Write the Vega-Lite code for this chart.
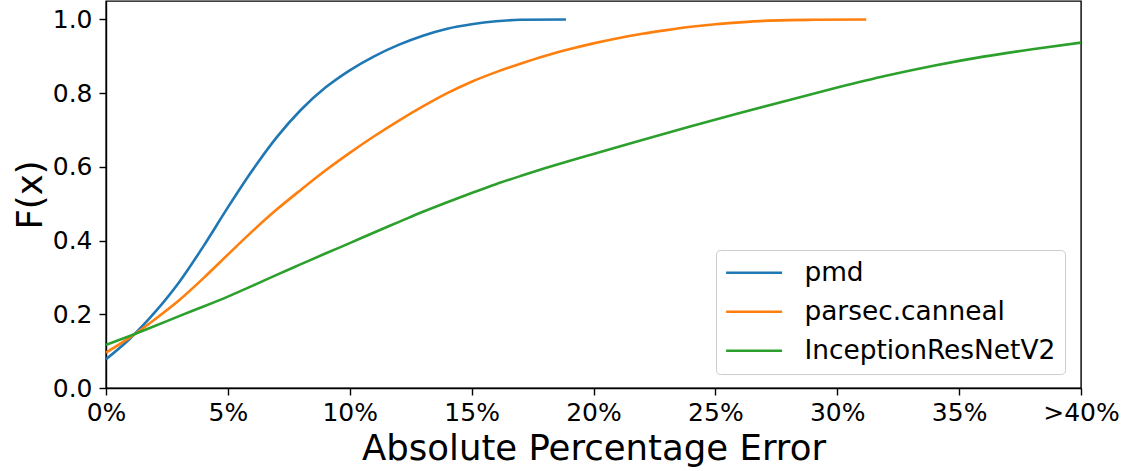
{
  "$schema": "https://vega.github.io/schema/vega-lite/v6.json",
  "width": 975,
  "height": 387,
  "autosize": "none",
  "padding": {"left": 106, "top": 1, "right": 55, "bottom": 83},
  "background": "white",
  "config": {
    "view": {"stroke": "#000", "strokeWidth": 1.4},
    "axis": {
      "labelFont": "DejaVu Sans",
      "titleFont": "DejaVu Sans",
      "labelColor": "#000",
      "titleColor": "#000",
      "domainColor": "#000",
      "tickColor": "#000",
      "domainWidth": 1.4,
      "tickWidth": 1.4,
      "grid": false,
      "titleFontWeight": "normal",
      "labelFontSize": 25,
      "titleFontSize": 35.5
    },
    "legend": {
      "labelFont": "DejaVu Sans",
      "labelFontSize": 26.4,
      "labelColor": "#000",
      "labelLimit": 400
    }
  },
  "data": {
    "values": [
      {"s": "pmd", "x": 0, "y": 0.078},
      {"s": "pmd", "x": 1, "y": 0.135},
      {"s": "pmd", "x": 2, "y": 0.205},
      {"s": "pmd", "x": 3, "y": 0.287},
      {"s": "pmd", "x": 4, "y": 0.385},
      {"s": "pmd", "x": 5, "y": 0.49},
      {"s": "pmd", "x": 6, "y": 0.59},
      {"s": "pmd", "x": 7, "y": 0.68},
      {"s": "pmd", "x": 8, "y": 0.755},
      {"s": "pmd", "x": 9, "y": 0.815},
      {"s": "pmd", "x": 10, "y": 0.862},
      {"s": "pmd", "x": 11, "y": 0.9},
      {"s": "pmd", "x": 12, "y": 0.931},
      {"s": "pmd", "x": 13, "y": 0.956},
      {"s": "pmd", "x": 14, "y": 0.975},
      {"s": "pmd", "x": 15, "y": 0.987},
      {"s": "pmd", "x": 16, "y": 0.995},
      {"s": "pmd", "x": 17, "y": 0.999},
      {"s": "pmd", "x": 18.87, "y": 1.0},
      {"s": "parsec.canneal", "x": 0, "y": 0.096},
      {"s": "parsec.canneal", "x": 1, "y": 0.138},
      {"s": "parsec.canneal", "x": 2, "y": 0.186},
      {"s": "parsec.canneal", "x": 3, "y": 0.238},
      {"s": "parsec.canneal", "x": 4, "y": 0.298},
      {"s": "parsec.canneal", "x": 5, "y": 0.362},
      {"s": "parsec.canneal", "x": 6, "y": 0.425},
      {"s": "parsec.canneal", "x": 7, "y": 0.484},
      {"s": "parsec.canneal", "x": 8, "y": 0.538},
      {"s": "parsec.canneal", "x": 9, "y": 0.59},
      {"s": "parsec.canneal", "x": 10, "y": 0.638},
      {"s": "parsec.canneal", "x": 11, "y": 0.683},
      {"s": "parsec.canneal", "x": 12, "y": 0.725},
      {"s": "parsec.canneal", "x": 13, "y": 0.764},
      {"s": "parsec.canneal", "x": 14, "y": 0.8},
      {"s": "parsec.canneal", "x": 15, "y": 0.831},
      {"s": "parsec.canneal", "x": 16, "y": 0.857},
      {"s": "parsec.canneal", "x": 17, "y": 0.88},
      {"s": "parsec.canneal", "x": 18, "y": 0.901},
      {"s": "parsec.canneal", "x": 19, "y": 0.919},
      {"s": "parsec.canneal", "x": 20, "y": 0.935},
      {"s": "parsec.canneal", "x": 21, "y": 0.949},
      {"s": "parsec.canneal", "x": 22, "y": 0.961},
      {"s": "parsec.canneal", "x": 23, "y": 0.971},
      {"s": "parsec.canneal", "x": 24, "y": 0.98},
      {"s": "parsec.canneal", "x": 25, "y": 0.987},
      {"s": "parsec.canneal", "x": 26, "y": 0.992},
      {"s": "parsec.canneal", "x": 27, "y": 0.996},
      {"s": "parsec.canneal", "x": 28, "y": 0.998},
      {"s": "parsec.canneal", "x": 29, "y": 0.999},
      {"s": "parsec.canneal", "x": 31.19, "y": 1.0},
      {"s": "InceptionResNetV2", "x": 0, "y": 0.117},
      {"s": "InceptionResNetV2", "x": 1, "y": 0.142},
      {"s": "InceptionResNetV2", "x": 2, "y": 0.168},
      {"s": "InceptionResNetV2", "x": 3, "y": 0.195},
      {"s": "InceptionResNetV2", "x": 4, "y": 0.221},
      {"s": "InceptionResNetV2", "x": 5, "y": 0.248},
      {"s": "InceptionResNetV2", "x": 6, "y": 0.277},
      {"s": "InceptionResNetV2", "x": 7, "y": 0.307},
      {"s": "InceptionResNetV2", "x": 8, "y": 0.336},
      {"s": "InceptionResNetV2", "x": 9, "y": 0.365},
      {"s": "InceptionResNetV2", "x": 10, "y": 0.393},
      {"s": "InceptionResNetV2", "x": 11, "y": 0.422},
      {"s": "InceptionResNetV2", "x": 12, "y": 0.45},
      {"s": "InceptionResNetV2", "x": 13, "y": 0.478},
      {"s": "InceptionResNetV2", "x": 14, "y": 0.504},
      {"s": "InceptionResNetV2", "x": 15, "y": 0.529},
      {"s": "InceptionResNetV2", "x": 16, "y": 0.553},
      {"s": "InceptionResNetV2", "x": 17, "y": 0.575},
      {"s": "InceptionResNetV2", "x": 18, "y": 0.596},
      {"s": "InceptionResNetV2", "x": 19, "y": 0.616},
      {"s": "InceptionResNetV2", "x": 20, "y": 0.635},
      {"s": "InceptionResNetV2", "x": 22, "y": 0.673},
      {"s": "InceptionResNetV2", "x": 24, "y": 0.71},
      {"s": "InceptionResNetV2", "x": 26, "y": 0.746},
      {"s": "InceptionResNetV2", "x": 28, "y": 0.781},
      {"s": "InceptionResNetV2", "x": 30, "y": 0.815},
      {"s": "InceptionResNetV2", "x": 32, "y": 0.847},
      {"s": "InceptionResNetV2", "x": 34, "y": 0.875},
      {"s": "InceptionResNetV2", "x": 36, "y": 0.899},
      {"s": "InceptionResNetV2", "x": 38, "y": 0.919},
      {"s": "InceptionResNetV2", "x": 40, "y": 0.937}
    ]
  },
  "mark": {"type": "line", "strokeWidth": 2.6, "interpolate": "monotone", "clip": true},
  "encoding": {
    "x": {
      "field": "x",
      "type": "quantitative",
      "scale": {"domain": [0, 40], "nice": false, "zero": false},
      "axis": {
        "title": "Absolute Percentage Error",
        "values": [0, 5, 10, 15, 20, 25, 30, 35, 40],
        "labelExpr": "datum.value == 40 ? '>40%' : datum.value + '%'",
        "tickSize": 7,
        "labelPadding": 5,
        "titlePadding": 6,
        "labelFlush": false,
        "labelOverlap": false
      }
    },
    "y": {
      "field": "y",
      "type": "quantitative",
      "scale": {"domain": [0, 1.05], "nice": false},
      "axis": {
        "title": "F(x)",
        "values": [0, 0.2, 0.4, 0.6, 0.8, 1.0],
        "format": ".1f",
        "tickSize": 7,
        "labelPadding": 7,
        "titlePadding": 4,
        "labelFlush": false,
        "labelOverlap": false
      }
    },
    "color": {
      "field": "s",
      "type": "nominal",
      "sort": null,
      "scale": {
        "domain": ["pmd", "parsec.canneal", "InceptionResNetV2"],
        "range": ["#1f77b4", "#ff7f0e", "#2ca02c"]
      },
      "legend": {
        "title": null,
        "orient": "none",
        "legendX": 610,
        "legendY": 249,
        "symbolType": "M-1.8,0H6.2",
        "symbolSize": 196,
        "symbolStrokeWidth": 2.6,
        "symbolFillColor": "transparent",
        "labelOffset": 52.5,
        "rowPadding": 12,
        "padding": 9.5,
        "strokeColor": "#cccccc",
        "fillColor": "rgba(255,255,255,0.8)",
        "cornerRadius": 4
      }
    }
  }
}
